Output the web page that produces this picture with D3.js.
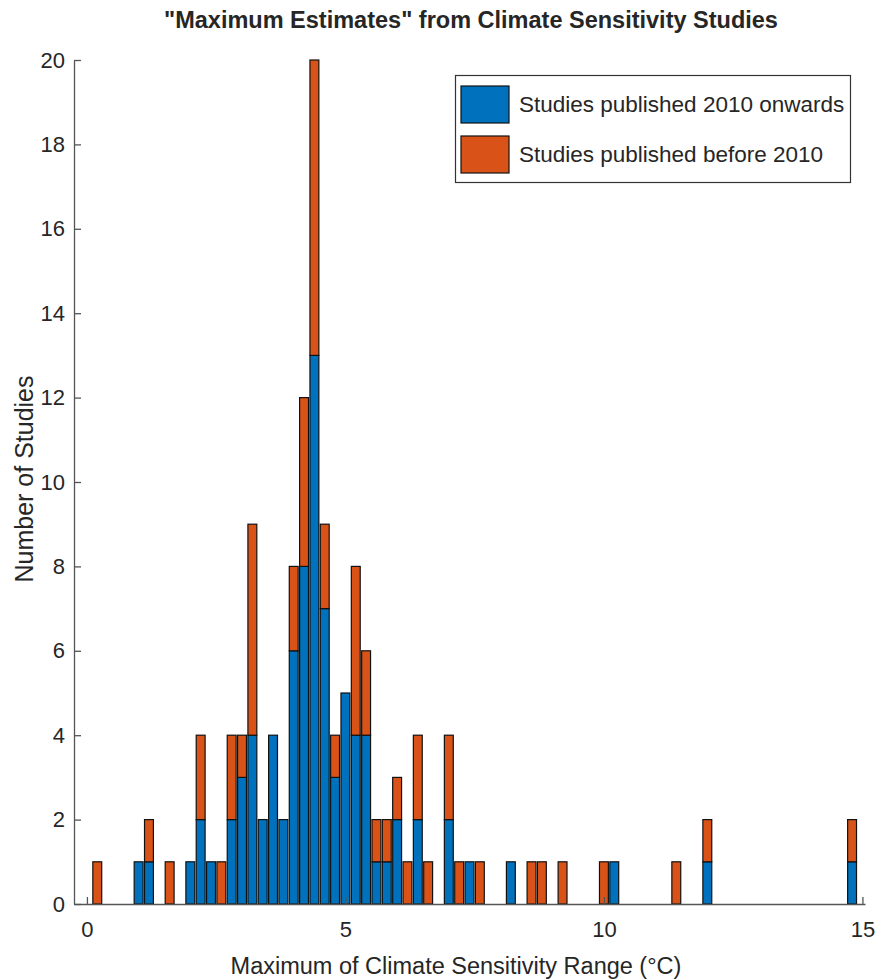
<!DOCTYPE html>
<html>
<head>
<meta charset="utf-8">
<style>
  body { margin: 0; background: #fff; }
  text { font-family: "Liberation Sans", Arial, sans-serif; fill: #262626; }
</style>
</head>
<body>
<script src="https://d3js.org/d3.v7.min.js"></script>
<script>
// bin centres (°C) and counts per group
var binCentres = [0.2, 1.0, 1.2, 1.6, 2.0, 2.2, 2.4, 2.6, 2.8, 3.0, 3.2, 3.4, 3.6, 3.8, 4.0, 4.2, 4.4, 4.6, 4.8, 5.0,
  5.2, 5.4, 5.6, 5.8, 6.0, 6.2, 6.4, 6.6, 7.0, 7.2, 7.4, 7.6, 8.2, 8.6, 8.8, 9.2, 10.0, 10.2, 11.4, 12.0, 14.8];
var since2010 = [0, 1, 1, 0, 1, 2, 1, 0, 2, 3, 4, 2, 4, 2, 6, 8, 13, 7, 3, 5,
  4, 4, 1, 1, 2, 0, 2, 0, 2, 0, 1, 0, 1, 0, 0, 0, 0, 1, 0, 1, 1];
var before2010 = [1, 0, 1, 1, 0, 2, 0, 1, 2, 1, 5, 0, 0, 0, 2, 4, 7, 2, 1, 0,
  4, 2, 1, 1, 1, 1, 2, 1, 2, 1, 0, 1, 0, 1, 1, 1, 1, 0, 1, 1, 1];
var seriesNames = ['Studies published 2010 onwards', 'Studies published before 2010'];
var xTicks = [0, 5, 10, 15];
var yTicks = [0, 2, 4, 6, 8, 10, 12, 14, 16, 18, 20];
var binWidth = 0.2;

var colors = ['#0072BD', '#D95319'];

var W = 878, H = 980;
var svg = d3.select('body').append('svg')
  .attr('width', W)
  .attr('height', H);

var x = d3.scaleLinear().domain([-0.25, 15.05]).range([74, 865]);
var y = d3.scaleLinear().domain([0, 20]).range([904, 60]);

var table = binCentres.map(function(c, i) {
  return { c: c, a: since2010[i], b: before2010[i] };
});
var stack = d3.stack().keys(['a', 'b'])(table);

var bw = (x(binWidth) - x(0)) * 0.86;

svg.append('g')
  .selectAll('g')
  .data(stack)
  .join('g')
    .attr('fill', function(s, i) { return colors[i]; })
  .selectAll('rect')
  .data(function(s) { return s.filter(function(d) { return d[1] > d[0]; }); })
  .join('rect')
    .attr('x', function(d) { return x(d.data.c) - bw / 2; })
    .attr('width', bw)
    .attr('y', function(d) { return y(d[1]); })
    .attr('height', function(d) { return y(d[0]) - y(d[1]); })
    .attr('stroke', '#111')
    .attr('stroke-width', 1.2);

// axes, ticks pointing inward like matlab
var xAxis = svg.append('g')
  .attr('transform', 'translate(0,' + y(0) + ')')
  .call(d3.axisBottom(x).tickValues(xTicks).tickSize(-7).tickSizeOuter(0).tickPadding(17));
var yAxis = svg.append('g')
  .attr('transform', 'translate(' + x.range()[0] + ',0)')
  .call(d3.axisLeft(y).tickValues(yTicks).tickSize(-7).tickSizeOuter(0).tickPadding(9));

[xAxis, yAxis].forEach(function(a) {
  a.selectAll('path, line').attr('stroke', '#555').attr('stroke-width', 1.3);
  a.selectAll('text').style('font-size', '22px').attr('fill', '#262626');
});

svg.append('text')
  .attr('x', 471).attr('y', 28)
  .attr('text-anchor', 'middle')
  .style('font-size', '23.5px').style('font-weight', 'bold')
  .attr('fill', '#000')
  .text('"Maximum Estimates" from Climate Sensitivity Studies');

svg.append('text')
  .attr('x', 456).attr('y', 974)
  .attr('text-anchor', 'middle')
  .style('font-size', '23.5px')
  .text('Maximum of Climate Sensitivity Range (°C)');

svg.append('text')
  .attr('transform', 'translate(33,479) rotate(-90)')
  .attr('text-anchor', 'middle')
  .style('font-size', '25px')
  .text('Number of Studies');

// legend
var legend = svg.append('g');
legend.append('rect')
  .attr('x', 455.5).attr('y', 75.5).attr('width', 395).attr('height', 107)
  .attr('fill', '#fff').attr('stroke', '#333').attr('stroke-width', 1.2);
seriesNames.forEach(function(name, i) {
  legend.append('rect')
    .attr('x', 461).attr('y', 86 + i * 50).attr('width', 48).attr('height', 37)
    .attr('fill', colors[i]).attr('stroke', '#111').attr('stroke-width', 1.2);
  legend.append('text')
    .attr('x', 519).attr('y', 104.5 + i * 50)
    .attr('dy', '0.35em')
    .style('font-size', '22.5px')
    .text(name);
});
</script>
</body>
</html>
